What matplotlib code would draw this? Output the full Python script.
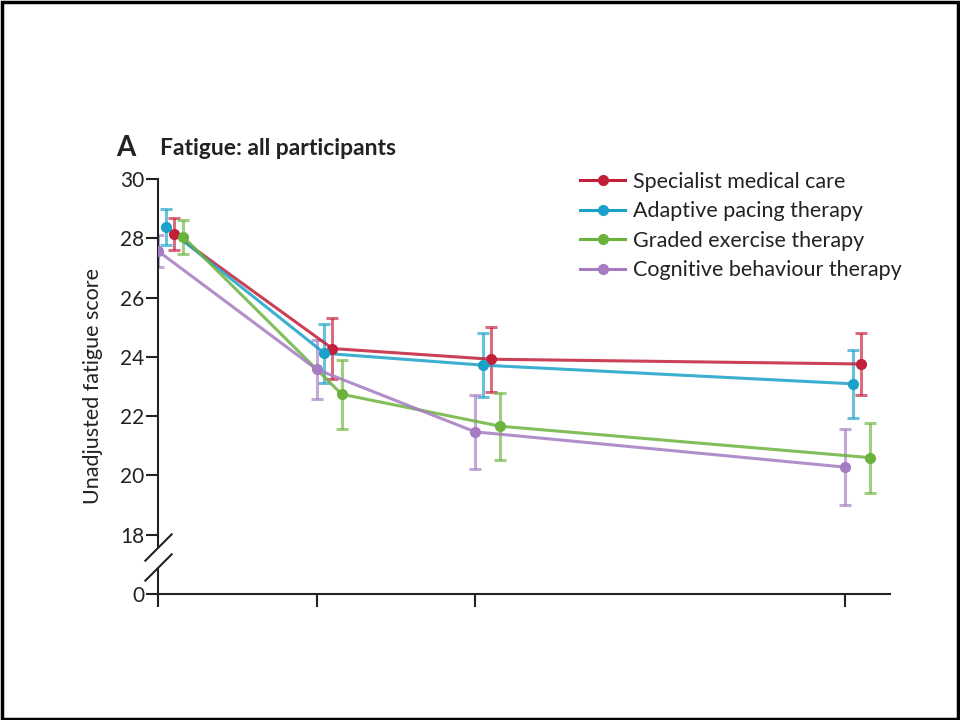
import numpy as np
import matplotlib
matplotlib.use("Agg")
from matplotlib import pyplot as plt
from matplotlib.lines import Line2D
from matplotlib.patches import Rectangle
import matplotlib.transforms as mtransforms

plt.rcParams['font.family'] = ['Lato', 'DejaVu Sans']

# weeks since randomisation
weeks = [0, 12, 24, 52]

groups = ['Specialist medical care', 'Adaptive pacing therapy',
          'Graded exercise therapy', 'Cognitive behaviour therapy']

smc_mean = [28.15, 24.28, 23.92, 23.76]
smc_ci = [0.55, 1.02, 1.10, 1.04]
apt_mean = [28.38, 24.12, 23.72, 23.09]
apt_ci = [0.60, 1.00, 1.07, 1.15]
get_mean = [28.05, 22.74, 21.66, 20.60]
get_ci = [0.57, 1.16, 1.13, 1.18]
cbt_mean = [27.57, 23.58, 21.47, 20.28]
cbt_ci = [0.55, 1.00, 1.25, 1.27]

means = [smc_mean, apt_mean, get_mean, cbt_mean]
cis = [smc_ci, apt_ci, get_ci, cbt_ci]
colors = ['#c21f3a', '#1ba1c9', '#6cb33e', '#a57bc1']
dodge = [1.2, 0.6, 1.9, 0.0]   # horizontal nudge (weeks) so bars don't overlap

# compressed scale below 18 so the 0 tick sits just under the break
def fwd(y):
    y = np.asarray(y, dtype=float)
    return np.where(y >= 18, y, 18 - (18 - y) / 9.0)

def inv(t):
    t = np.asarray(t, dtype=float)
    return np.where(t >= 18, t, 18 - (18 - t) * 9.0)

fig = plt.figure(figsize=(9.6, 7.2), dpi=100)
ax = fig.add_axes([158 / 960, 1 - 594 / 720, 732 / 960, 415 / 720])
ax.set_yscale('function', functions=(fwd, inv))

for m, c, col, d, lab in zip(means, cis, colors, dodge, groups):
    x = np.array(weeks) + d
    ax.errorbar(x, m, yerr=c, fmt='none', ecolor=col, alpha=0.65,
                elinewidth=2.2, capsize=4.5, capthick=2.2, zorder=2)
    ax.plot(x, m, '-', color=col, lw=2.2, alpha=0.85, zorder=3)
    ax.plot(x, m, 'o', color=col, ms=7, zorder=4)

ax.set_xlim(0, 55.4)
ax.set_ylim(0, 30)
ax.set_xticks(weeks)
ax.set_xticklabels([])
ax.set_yticks([0, 18, 20, 22, 24, 26, 28, 30])
ax.tick_params(axis='x', direction='out', length=9, width=1.5, color='#222222')
ax.tick_params(axis='y', direction='out', length=9, width=1.5, color='#222222',
               labelsize=15, pad=1, labelcolor='#222222')

for s in ['top', 'right']:
    ax.spines[s].set_visible(False)
ax.spines['bottom'].set_linewidth(1.5)
ax.spines['bottom'].set_color('#222222')
ax.spines['left'].set_linewidth(1.5)
ax.spines['left'].set_color('#222222')
ax.spines['left'].set_bounds(14.2, 30)

# lower piece of the y axis and the break marks
trans = mtransforms.blended_transform_factory(ax.transAxes, ax.transData)
ax.add_line(Line2D([0, 0], [0, 7.5], transform=trans, color='#222222',
                   lw=1.5, clip_on=False))
for yb in [14.3, 8.3]:
    ax.plot([0], [yb], transform=trans, marker=[(-1, -1), (1, 1)],
            ms=20, mew=1.5, color='#222222', clip_on=False)

ax.set_ylabel('Unadjusted fatigue score', fontsize=15.5, labelpad=12,
              color='#222222')

fig.text(116 / 960, 1 - 156 / 720, 'A', fontsize=20, fontweight='bold',
         va='baseline', color='#222222')
fig.text(160 / 960, 1 - 155 / 720, 'Fatigue: all participants', fontsize=16.5,
         fontweight='bold', va='baseline', color='#222222')

handles = [Line2D([], [], color=col, lw=2.2, marker='o', ms=7) for col in colors]
ax.legend(handles, groups, loc='upper left', bbox_to_anchor=(580 / 960, 1 - 172 / 720),
          bbox_transform=fig.transFigure, frameon=False, fontsize=15.5,
          handlelength=2.1, handletextpad=0.35, labelspacing=0.44,
          borderaxespad=0, borderpad=0, labelcolor='#222222')

fig.patches.append(Rectangle((0.002, 0.001), 0.996, 0.996, transform=fig.transFigure,
                             fill=False, edgecolor='black', lw=2.5))

fig.savefig('out.png', dpi=100)
